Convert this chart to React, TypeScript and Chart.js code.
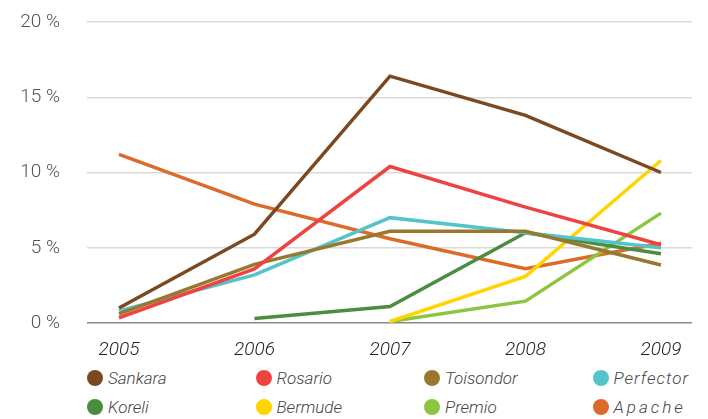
import React, { useEffect, useRef } from "react";
import { Chart, registerables } from "chart.js";

Chart.register(...registerables);

const years = [2005, 2006, 2007, 2008, 2009];
const yTicks = [0, 5, 10, 15, 20];

const sankara = [1.0, 5.9, 16.4, 13.8, 10.0];
const rosario = [0.35, 3.6, 10.4, 7.7, 5.2];
const toisondor = [0.6, 3.9, 6.1, 6.1, 3.85];
const perfector = [0.8, 3.2, 7.0, 6.0, 5.0];
const koreli = [null, 0.3, 1.1, 6.0, 4.6];
const bermude = [null, null, 0.1, 3.1, 10.8];
const premio = [null, null, 0.1, 1.45, 7.3];
const apache = [11.2, 7.9, 5.6, 3.6, 5.3];

const seriesNames = ["Sankara", "Rosario", "Toisondor", "Perfector", "Koreli", "Bermude", "Premio", "Apache"];
const seriesValues = [sankara, rosario, toisondor, perfector, koreli, bermude, premio, apache];
const seriesColors = ["#7b481f", "#ee4441", "#98782f", "#55c3ca", "#4b8d3e", "#ffd400", "#8cc63f", "#dc6b2b"];
const seriesSpacing = [0, 0, 0, 1, 0, 0, 0, 3];

export default function App() {
  const ref = useRef<HTMLCanvasElement | null>(null);
  useEffect(() => {
    if (!ref.current) return;
    const chart = new Chart(ref.current, {
      type: "line",
      data: {
        datasets: seriesNames.map((name, i) => ({
          label: name,
          data: years.map((y, j) => ({ x: y, y: seriesValues[i][j] as any })),
          borderColor: seriesColors[i],
          backgroundColor: seriesColors[i],
          borderWidth: 3.5,
          pointRadius: 0,
          tension: 0,
          fill: false,
          spanGaps: false,
          borderJoinStyle: "miter" as const,
        })),
      },
      options: {
        animation: false,
        responsive: false,
        maintainAspectRatio: false,
        layout: { padding: { top: 22, right: 16, bottom: 0, left: 0 } },
        plugins: { legend: { display: false }, tooltip: { enabled: false } },
        scales: {
          x: {
            type: "linear",
            min: 2004.764,
            max: 2009.229,
            afterBuildTicks: (s: any) => {
              s.ticks = years.map((v) => ({ value: v }));
            },
            afterFit: (s: any) => {
              s.height = 42;
            },
            grid: { display: false, drawTicks: false },
            border: { display: false },
            ticks: {
              padding: 16,
              color: "#222222",
              font: { family: "Roboto", size: 19, style: "italic", weight: 300 as any },
              callback: (v: any) => String(v),
              maxRotation: 0,
              autoSkip: false,
            },
          },
          y: {
            min: 0,
            max: 20,
            afterBuildTicks: (s: any) => {
              s.ticks = yTicks.map((v) => ({ value: v }));
            },
            afterFit: (s: any) => {
              s.width = 87;
            },
            grid: {
              drawTicks: true,
              tickLength: 27,
              tickColor: "rgba(0,0,0,0)",
              color: (c: any) => (c.tick && c.tick.value === 0 ? "#8a8a8a" : "#d9d9d9"),
              lineWidth: 1.5,
            },
            border: { display: false },
            ticks: {
              padding: 0,
              color: "#555555",
              font: { family: "Roboto", size: 19, weight: 300 as any },
              callback: (v: any) => v + " %",
            },
          },
        },
      },
    });
    return () => chart.destroy();
  }, []);

  return (
    <div style={{ position: "absolute", left: 0, top: 0, width: 708, height: 419, background: "#fff" }}>
      <canvas ref={ref} width={708} height={365} style={{ position: "absolute", left: 0, top: 0, width: 708, height: 365 }} />
      {seriesNames.map((name, i) => {
        const col = i % 4;
        const row = Math.floor(i / 4);
        const cx = 95 + col * 168.5;
        const cy = 378 + row * 29;
        return (
          <div key={name} style={{ position: "absolute", left: cx - 8, top: cy - 12, height: 24, display: "flex", alignItems: "center", whiteSpace: "nowrap" }}>
            <span style={{ display: "inline-block", width: 16, height: 16, borderRadius: 8, background: seriesColors[i] }} />
            <span style={{ marginLeft: 5, fontFamily: "Roboto", fontWeight: 300, fontStyle: "italic", fontSize: 17, color: "#444", letterSpacing: seriesSpacing[i] }}>{name}</span>
          </div>
        );
      })}
    </div>
  );
}
